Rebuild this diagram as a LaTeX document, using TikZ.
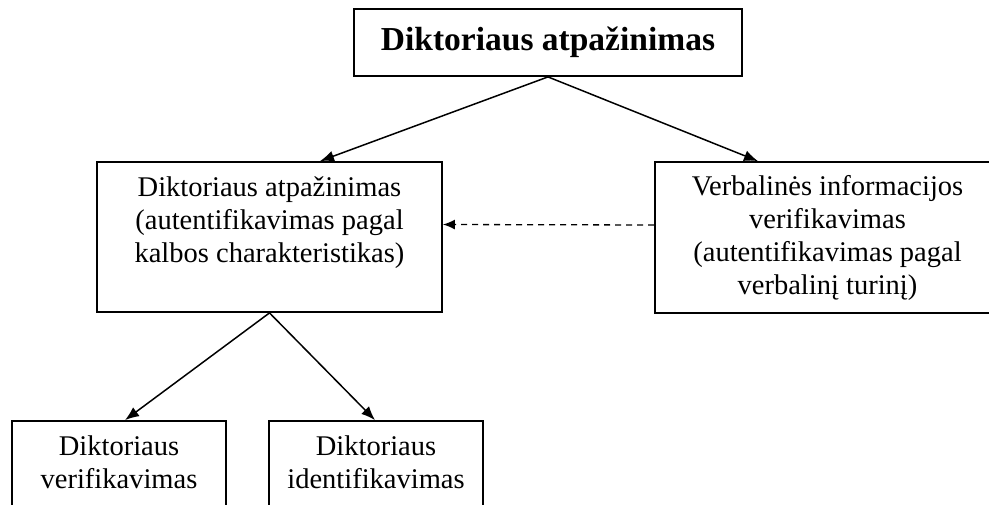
\documentclass[tikz,border=0pt]{standalone}
\usepackage{fontspec}
\setmainfont{Liberation Serif}
\usetikzlibrary{arrows.meta}
\begin{document}
\begin{tikzpicture}[x=1pt,y=-1pt,
  box/.style={draw, line width=1.8pt, inner sep=0pt},
  txt/.style={align=center, font=\fontsize{28.5}{33}\selectfont, inner sep=0pt},
  conn/.style={line width=1.5pt, -{Latex[length=14pt,width=11pt]}},
  dconn/.style={line width=1.3pt, dash pattern=on 6pt off 5pt, -{Latex[length=12pt,width=10pt]}},
]
\useasboundingbox (0,0) rectangle (989,504);
\clip (0,0) rectangle (989,504);

% top level
\node[box, minimum width=388pt, minimum height=67pt,
      font=\bfseries\fontsize{33.5}{38}\selectfont] (root) at (548,42.5) {Diktoriaus atpažinimas};

% second level
\node[box, minimum width=345pt, minimum height=150pt] (mid) at (269.5,237) {};
\node[txt, anchor=north] (midtext) at ([yshift=-15pt]mid.north)
  {Diktoriaus atpažinimas\\(autentifikavimas pagal\\kalbos charakteristikas)};

\node[box, txt, minimum width=345pt, minimum height=151pt] (verb) at (827.5,237.5)
  {Verbalinės informacijos\\verifikavimas\\(autentifikavimas pagal\\verbalinį turinį)};

% third level
\node[box, minimum width=214pt, minimum height=110pt] (lv) at (119,476) {};
\node[txt, anchor=north] (lvtext) at ([yshift=-15pt]lv.north) {Diktoriaus\\verifikavimas};
\node[box, minimum width=214pt, minimum height=110pt] (li) at (376,476) {};
\node[txt, anchor=north] (litext) at ([yshift=-15pt]li.north) {Diktoriaus\\identifikavimas};

% connectors
\draw[conn] (root.south) -- ([xshift=50.5pt]mid.north);
\draw[conn] (root.south) -- ([xshift=-69.5pt]verb.north);
\draw[dconn] ([yshift=12.5pt]verb.west) -- ([yshift=12.5pt]mid.east);
\draw[conn] (mid.south) -- ([xshift=6pt]lv.north);
\draw[conn] (mid.south) -- ([xshift=-1pt]li.north);
\end{tikzpicture}
\end{document}
